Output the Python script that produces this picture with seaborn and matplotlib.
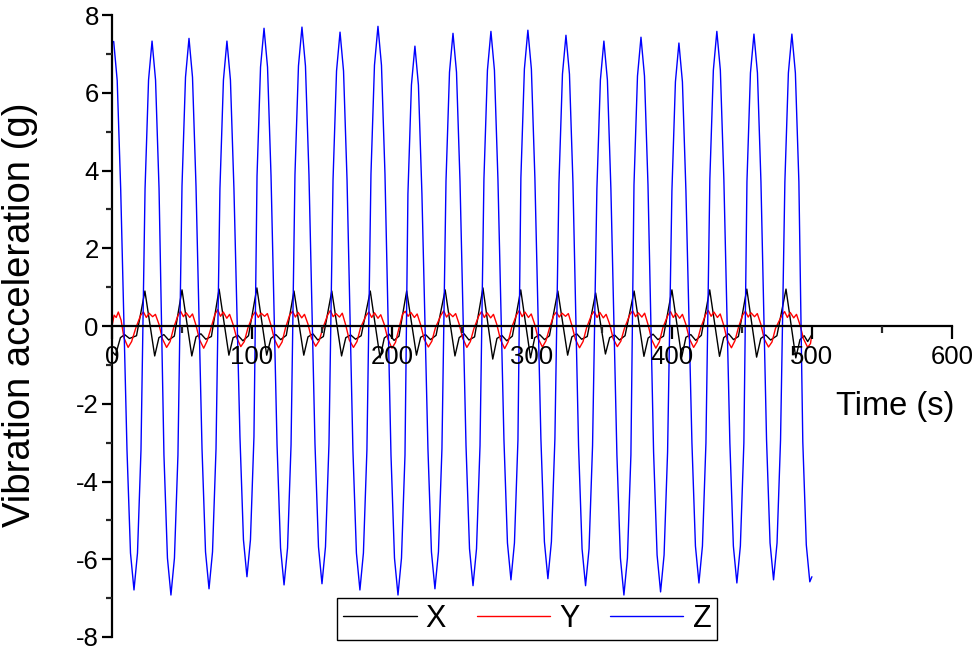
import pandas as pd
import matplotlib
matplotlib.use("Agg")
import matplotlib.pyplot as plt
import seaborn as sns
from matplotlib.ticker import MultipleLocator

# ============================
# Data: (time s, acceleration g)
# ============================
z_points = [
    (0, 7.30), (1.2, 7.32), (3.7, 6.32), (6.2, 3.52),
    (10.7, -3.19), (13.2, -5.84), (15.7, -6.79), (18.2, -5.84), (20.7, -3.19),
    (23.6, 3.53), (26.1, 6.33), (28.6, 7.33), (31.1, 6.33), (33.6, 3.53),
    (37.1, -3.32), (39.6, -5.97), (42.1, -6.92), (44.6, -5.97), (47.1, -3.32),
    (50, 3.60), (52.5, 6.40), (55, 7.40), (57.5, 6.40), (60, 3.60),
    (64.3, -3.16), (66.8, -5.81), (69.3, -6.76), (71.8, -5.81), (74.3, -3.16),
    (77.1, 3.53), (79.6, 6.33), (82.1, 7.33), (84.6, 6.33), (87.1, 3.53),
    (91.4, -2.85), (93.9, -5.50), (96.4, -6.45), (98.9, -5.50), (101.4, -2.85),
    (103.6, 3.86), (106.1, 6.66), (108.6, 7.66), (111.1, 6.66), (113.6, 3.86),
    (117.9, -3.06), (120.4, -5.71), (122.9, -6.66), (125.4, -5.71), (127.9, -3.06),
    (130.7, 3.89), (133.2, 6.69), (135.7, 7.69), (138.2, 6.69), (140.7, 3.89),
    (145, -3.03), (147.5, -5.68), (150, -6.63), (152.5, -5.68), (155, -3.03),
    (157.9, 3.76), (160.4, 6.56), (162.9, 7.56), (165.4, 6.56), (167.9, 3.76),
    (172.1, -3.19), (174.6, -5.84), (177.1, -6.79), (179.6, -5.84), (182.1, -3.19),
    (185, 3.91), (187.5, 6.71), (190, 7.71), (192.5, 6.71), (195, 3.91),
    (199.3, -3.32), (201.8, -5.97), (204.3, -6.92), (206.8, -5.97), (209.3, -3.32),
    (211.4, 3.40), (213.9, 6.20), (216.4, 7.20), (218.9, 6.20), (221.4, 3.40),
    (225.7, -3.16), (228.2, -5.81), (230.7, -6.76), (233.2, -5.81), (235.7, -3.16),
    (238.6, 3.73), (241.1, 6.53), (243.6, 7.53), (246.1, 6.53), (248.6, 3.73),
    (252.9, -3.08), (255.4, -5.73), (257.9, -6.68), (260.4, -5.73), (262.9, -3.08),
    (265.7, 3.78), (268.2, 6.58), (270.7, 7.58), (273.2, 6.58), (275.7, 3.78),
    (280, -2.93), (282.5, -5.58), (285, -6.53), (287.5, -5.58), (290, -2.93),
    (292.1, 3.81), (294.6, 6.61), (297.1, 7.61), (299.6, 6.61), (302.1, 3.81),
    (306.4, -2.90), (308.9, -5.55), (311.4, -6.50), (313.9, -5.55), (316.4, -2.90),
    (319.3, 3.68), (321.8, 6.48), (324.3, 7.48), (326.8, 6.48), (329.3, 3.68),
    (333.3, -3.08), (335.8, -5.73), (338.3, -6.68), (340.8, -5.73), (343.3, -3.08),
    (346.4, 3.53), (348.9, 6.33), (351.4, 7.33), (353.9, 6.33), (356.4, 3.53),
    (360.7, -3.32), (363.2, -5.97), (365.7, -6.92), (368.2, -5.97), (370.7, -3.32),
    (372.9, 3.63), (375.4, 6.43), (377.9, 7.43), (380.4, 6.43), (382.9, 3.63),
    (386.9, -3.24), (389.4, -5.89), (391.9, -6.84), (394.4, -5.89), (396.9, -3.24),
    (400, 3.48), (402.5, 6.28), (405, 7.28), (407.5, 6.28), (410, 3.48),
    (414.3, -3.01), (416.8, -5.66), (419.3, -6.61), (421.8, -5.66), (424.3, -3.01),
    (427.1, 3.78), (429.6, 6.58), (432.1, 7.58), (434.6, 6.58), (437.1, 3.78),
    (441.4, -3.01), (443.9, -5.66), (446.4, -6.61), (448.9, -5.66), (451.4, -3.01),
    (453.6, 3.71), (456.1, 6.51), (458.6, 7.51), (461.1, 6.51), (463.6, 3.71),
    (467.6, -2.93), (470.1, -5.58), (472.6, -6.53), (475.1, -5.58), (477.6, -2.93),
    (480.7, 3.71), (483.2, 6.51), (485.7, 7.51), (488.2, 6.51), (490.7, 3.71),
    (493.5, -2.98), (496, -5.63), (498.5, -6.58), (500, -6.45),
]

x_points = [
    (0, -0.65), (2.5, -0.75), (6, -0.30), (9, -0.22), (12.5, -0.32), (17.5, -0.25),
    (23.5, 0.90), (30.5, -0.77), (33.5, -0.30), (37, -0.22), (40.5, -0.36), (44.5, -0.26),
    (50, 0.93), (57, -0.77), (60, -0.28), (63.5, -0.20), (67, -0.34), (71, -0.27),
    (76.5, 0.95), (83.5, -0.75), (86.5, -0.30), (90, -0.24), (93.5, -0.38), (97.5, -0.25),
    (103.5, 0.98), (110.5, -0.75), (113.5, -0.32), (117, -0.22), (120.5, -0.35), (124.5, -0.24),
    (130, 0.90), (137, -0.75), (140, -0.28), (143.5, -0.20), (147, -0.36), (151, -0.27),
    (157, 0.90), (164, -0.77), (167, -0.30), (170.5, -0.23), (174, -0.34), (178, -0.25),
    (184.5, 0.90), (191.5, -0.82), (194.5, -0.31), (198, -0.21), (201.5, -0.37), (205, -0.26),
    (210.5, 0.90), (217.5, -0.75), (220.5, -0.29), (224, -0.22), (227.5, -0.35), (231.5, -0.24),
    (238, 0.93), (245, -0.77), (248, -0.30), (251.5, -0.20), (255, -0.36), (259, -0.28),
    (265, 0.98), (272, -0.85), (275, -0.32), (278.5, -0.24), (282, -0.38), (286, -0.26),
    (292, 0.93), (299, -0.82), (302, -0.30), (305.5, -0.22), (309, -0.35), (312.5, -0.25),
    (318.5, 0.90), (325.5, -0.75), (328.5, -0.28), (332, -0.20), (335.5, -0.34), (339.5, -0.27),
    (345.5, 0.85), (352.5, -0.72), (355.5, -0.30), (359, -0.23), (362.5, -0.36), (366.5, -0.25),
    (373, 0.90), (380, -0.78), (383, -0.31), (386.5, -0.21), (390, -0.35), (394, -0.26),
    (400, 0.93), (407, -0.80), (410, -0.29), (413.5, -0.22), (417, -0.37), (421, -0.24),
    (427, 0.93), (434, -0.78), (437, -0.30), (440.5, -0.20), (444, -0.35), (447.5, -0.27),
    (453.5, 0.95), (460.5, -0.80), (463.5, -0.32), (467, -0.23), (470.5, -0.36), (475, -0.25),
    (481.5, 0.95), (488.5, -0.82), (491.5, -0.35), (494.5, -0.25), (497, -0.40), (500, -0.22),
]

y_points = [
    (0, 0.00), (1.5, 0.28), (3, 0.22), (4.5, 0.36), (6.5, 0.15), (8.5, -0.30),
    (11.5, -0.55), (14, -0.40), (17, -0.05),
    (20.5, 0.28), (22.5, 0.36), (24.5, 0.22), (26.5, 0.33), (29, 0.24), (31, 0.30),
    (33.5, 0.05), (36, -0.33), (39, -0.55), (41.5, -0.40), (44, -0.05),
    (47, 0.26), (49, 0.38), (51, 0.24), (53, 0.34), (55.5, 0.22), (57.5, 0.31),
    (60, 0.02), (62.5, -0.35), (65.5, -0.57), (68, -0.38), (70.5, -0.08),
    (73.5, 0.30), (75.5, 0.42), (77.5, 0.25), (79.5, 0.36), (82, 0.20), (84, 0.30),
    (86.5, 0.04), (89, -0.30), (92, -0.53), (94.5, -0.40), (97, -0.06),
    (100.5, 0.27), (102.5, 0.37), (104.5, 0.22), (106.5, 0.33), (109, 0.25), (111, 0.32),
    (113.5, 0.03), (116, -0.34), (119, -0.56), (121.5, -0.41), (124, -0.04),
    (127, 0.29), (129, 0.38), (131, 0.23), (133, 0.35), (135.5, 0.21), (137.5, 0.30),
    (140, 0.05), (142.5, -0.32), (145.5, -0.52), (148, -0.38), (150.5, -0.07),
    (154, 0.28), (156, 0.40), (158, 0.24), (160, 0.32), (162.5, 0.23), (164.5, 0.33),
    (167, 0.02), (169.5, -0.36), (172.5, -0.55), (175, -0.40), (177.5, -0.05),
    (181.5, 0.27), (183.5, 0.36), (185.5, 0.22), (187.5, 0.34), (190, 0.20), (192, 0.29),
    (194.5, 0.04), (197, -0.33), (200, -0.57), (202.5, -0.42), (205, -0.06),
    (207.5, 0.30), (209.5, 0.38), (211.5, 0.25), (213.5, 0.35), (216, 0.22), (218, 0.31),
    (220.5, 0.03), (223, -0.34), (226, -0.54), (228.5, -0.39), (231, -0.05),
    (235, 0.28), (237, 0.39), (239, 0.23), (241, 0.33), (243.5, 0.24), (245.5, 0.32),
    (248, 0.05), (250.5, -0.31), (253.5, -0.55), (256, -0.40), (258.5, -0.07),
    (262, 0.26), (264, 0.37), (266, 0.22), (268, 0.34), (270.5, 0.21), (272.5, 0.30),
    (275, 0.03), (277.5, -0.35), (280.5, -0.58), (283, -0.41), (285.5, -0.04),
    (289, 0.29), (291, 0.40), (293, 0.24), (295, 0.36), (297.5, 0.22), (299.5, 0.31),
    (302, 0.04), (304.5, -0.33), (307.5, -0.54), (310, -0.38), (312.5, -0.06),
    (315.5, 0.27), (317.5, 0.36), (319.5, 0.23), (321.5, 0.33), (324, 0.25), (326, 0.32),
    (328.5, 0.02), (331, -0.34), (334, -0.56), (336.5, -0.40), (339, -0.05),
    (342.5, 0.28), (344.5, 0.38), (346.5, 0.22), (348.5, 0.35), (351, 0.21), (353, 0.30),
    (355.5, 0.05), (358, -0.32), (361, -0.53), (363.5, -0.39), (366, -0.07),
    (370, 0.30), (372, 0.39), (374, 0.24), (376, 0.34), (378.5, 0.23), (380.5, 0.33),
    (383, 0.03), (385.5, -0.35), (388.5, -0.57), (391, -0.41), (393.5, -0.05),
    (397, 0.27), (399, 0.37), (401, 0.22), (403, 0.33), (405.5, 0.20), (407.5, 0.30),
    (410, 0.04), (412.5, -0.33), (415.5, -0.55), (418, -0.40), (420.5, -0.06),
    (424, 0.29), (426, 0.40), (428, 0.25), (430, 0.36), (432.5, 0.22), (434.5, 0.31),
    (437, 0.02), (439.5, -0.36), (442.5, -0.56), (445, -0.38), (447.5, -0.04),
    (450.5, 0.28), (452.5, 0.38), (454.5, 0.23), (456.5, 0.34), (459, 0.24), (461, 0.32),
    (463.5, 0.05), (466, -0.34), (469, -0.54), (471.5, -0.41), (474, -0.06),
    (478.5, 0.27), (480.5, 0.37), (482.5, 0.22), (484.5, 0.35), (487, 0.21), (489, 0.30),
    (491.5, 0.03), (494, -0.33), (497, -0.55), (499, -0.45), (500, -0.20),
]

x_ticks = [0, 100, 200, 300, 400, 500, 600]
y_ticks = [-8, -6, -4, -2, 0, 2, 4, 6, 8]
series = ["X", "Y", "Z"]
colors = {"X": "black", "Y": "red", "Z": "blue"}

frames = []
for name, pts in zip(series, [x_points, y_points, z_points]):
    d = pd.DataFrame(pts, columns=["time", "acc"])
    d["axis"] = name
    frames.append(d)
df = pd.concat(frames, ignore_index=True)

# ============================
# Style
# ============================
sns.set_style("ticks")
plt.rcParams["font.family"] = ["Liberation Sans", "DejaVu Sans"]
plt.rcParams["axes.unicode_minus"] = False
plt.rcParams["text.color"] = "black"
plt.rcParams["axes.labelcolor"] = "black"

fig = plt.figure(figsize=(9.8, 6.54), dpi=100)
ax = fig.add_axes([0.1143, 0.026, 0.857, 0.951])

for name in series:
    sub = df[df["axis"] == name]
    sns.lineplot(data=sub, x="time", y="acc", color=colors[name], lw=1.0,
                 label=name, ax=ax, estimator=None, sort=True)

ax.set_xlim(0, 600)
ax.set_ylim(-8, 8)
ax.set_xticks(x_ticks)
ax.set_yticks(y_ticks)
ax.xaxis.set_minor_locator(MultipleLocator(50))
ax.yaxis.set_minor_locator(MultipleLocator(1))

# axes cross at the origin
ax.spines["left"].set_position(("data", 0))
ax.spines["bottom"].set_position(("data", 0))
ax.spines["top"].set_visible(False)
ax.spines["right"].set_visible(False)
for s in ["left", "bottom"]:
    ax.spines[s].set_linewidth(1.6)
    ax.spines[s].set_color("black")
ax.set_axisbelow(False)

ax.tick_params(axis="x", which="major", direction="out", length=9, width=1.6,
               labelsize=18.5, pad=5, colors="black")
ax.tick_params(axis="x", which="minor", direction="out", length=5, width=1.6)
ax.tick_params(axis="y", which="major", direction="out", length=7.5, width=1.6,
               labelsize=18.5, pad=2, colors="black")
ax.tick_params(axis="y", which="minor", direction="out", length=4, width=1.6)

ax.set_xlabel("Time (s)", fontsize=23.5)
ax.xaxis.set_label_coords(0.932, 0.395)
ax.set_ylabel("Vibration acceleration (g)", fontsize=27.5)
ax.yaxis.set_label_coords(-0.088, 0.518)

leg = ax.legend(ncol=3, loc="lower center", bbox_to_anchor=(0.4945, -0.005),
                borderaxespad=0, frameon=True, fancybox=False, edgecolor="black",
                framealpha=1, handlelength=2.4, handletextpad=0.3,
                columnspacing=1.0, fontsize=22, borderpad=0.2)
leg.get_frame().set_linewidth(1.0)

plt.savefig("out.png", dpi=100)
